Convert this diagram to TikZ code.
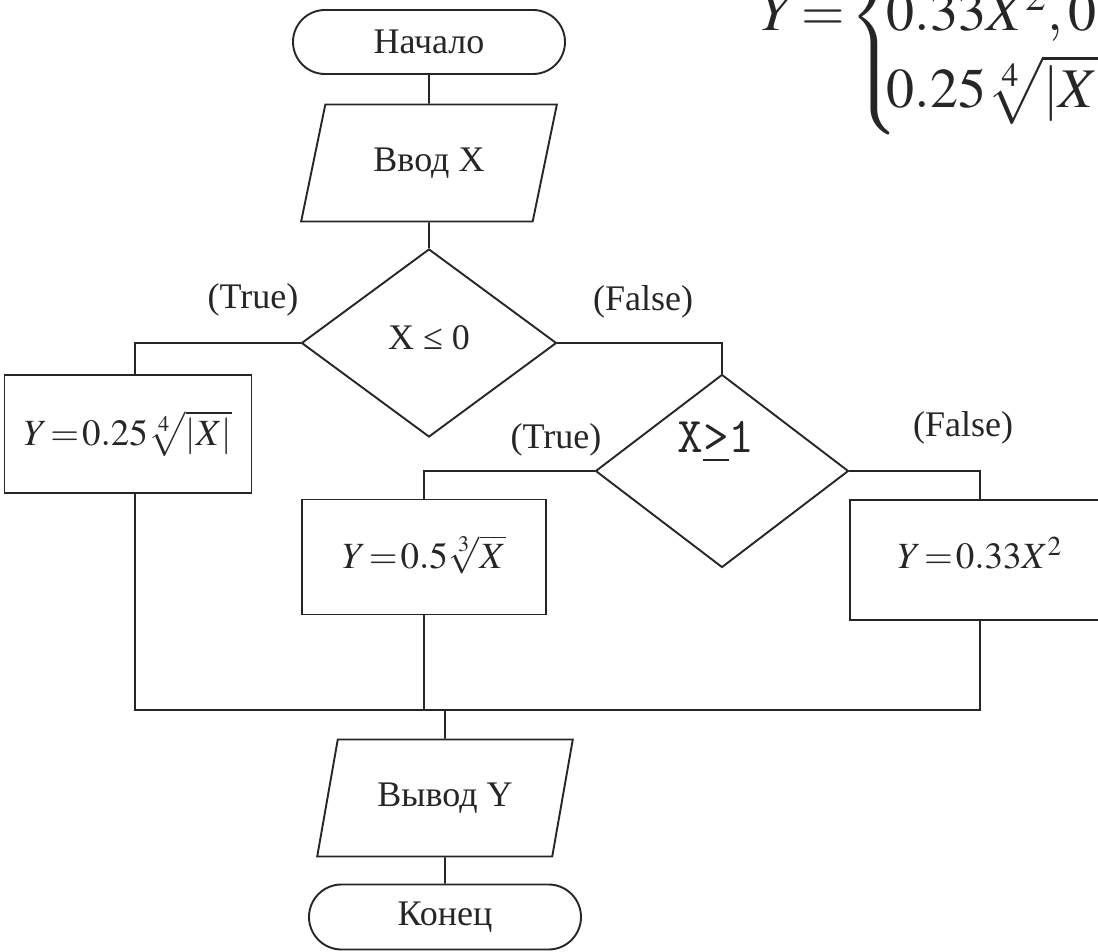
\documentclass[tikz,border=0pt]{standalone}
\usepackage{mathptmx}
\usepackage{fontspec}
\setmainfont{Liberation Serif}
\usetikzlibrary{shapes.geometric,shapes.misc}
\newcommand{\tightmath}[1]{$\thickmuskip=1.5mu\medmuskip=1.5mu #1$}

\begin{document}
\begin{tikzpicture}[x=0.5pt, y=-0.5pt, line width=0.95pt, color=black!85,
    every node/.style={font=\fontsize{18}{22}\selectfont},
    terminal/.style={draw, rounded rectangle, minimum width=136pt, minimum height=32pt, inner sep=0pt},
    io/.style={draw, trapezium, trapezium left angle=67, trapezium right angle=113,
        trapezium stretches=true, minimum width=128pt, minimum height=58.5pt, inner sep=0pt},
    decision/.style={draw, diamond, inner sep=0pt},
    process/.style={draw, rectangle, inner sep=0pt, font=\fontsize{18.5}{22}\selectfont},
    branch/.style={inner sep=0pt}]
    \useasboundingbox (0,0) rectangle (1098,952);
    \clip (0,0) rectangle (1098,952);

    % Formula (cut by the edge)
    \node[anchor=west, inner sep=0pt, font=\fontsize{28}{34}\selectfont] (formula) at (760,17)
        {\tightmath{Y=\left\{\!\!\begin{array}{@{}l@{}}\vphantom{0.25\sqrt[4]{|X|}}\\[2pt] 0.33X^2,0<\\[2pt] 0.25\sqrt[4]{|X|},X\end{array}\right.}};

    % Blocks
    \node[terminal] (start) at (429,42) {Начало};
    \node[io] (input) at (429,163) {Ввод X};
    \node[decision, minimum width=127.5pt, minimum height=94pt] (ifneg) at (429,343) {\raisebox{5pt}{X ≤ 0}};
    \node[process, minimum width=123.5pt, minimum height=59pt] (fneg) at (128,434) {\raisebox{6pt}{\tightmath{Y=0.25\sqrt[4]{|X|}}}};
    \node[decision, minimum width=126.5pt, minimum height=96.5pt] (ifbig) at (722,471) {};
    \node[font=\fontsize{25}{29}\selectfont\ttfamily] (ifbigtext) at (716,442) {X\underline{>}1};
    \node[process, minimum width=122pt, minimum height=57.5pt] (fbig) at (424,557) {\raisebox{5pt}{\tightmath{Y=0.5\sqrt[3]{X}}}};
    \node[process, minimum width=130pt, minimum height=60pt] (fmid) at (980,560) {\raisebox{7pt}{\tightmath{Y=0.33X^2}}};
    \coordinate (join) at (445,710);
    \node[io] (output) at (445,798) {Вывод Y};
    \node[terminal, minimum height=32.5pt] (stop) at (445,917) {Конец};

    % Branch labels
    \node[branch] (true1) at (253,300) {(True)};
    \node[branch] (false1) at (643,302) {(False)};
    \node[branch] (true2) at (556,440) {(True)};
    \node[branch] (false2) at (963,428) {(False)};

    % Connectors
    \draw (start) -- (input);
    \draw (input) -- (ifneg);
    \draw (ifneg.west) -| ([xshift=3.5pt]fneg.north);
    \draw (ifneg.east) -| (ifbig.north);
    \draw (ifbig.west) -| (fbig.north);
    \draw (ifbig.east) -| (fmid.north);
    \draw ([xshift=3.5pt]fneg.south) |- (join);
    \draw (fmid.south) |- (join);
    \draw (fbig.south) -- (fbig.south |- join);
    \draw (join) -- (output.north);
    \draw (output) -- (stop);
\end{tikzpicture}
\end{document}
